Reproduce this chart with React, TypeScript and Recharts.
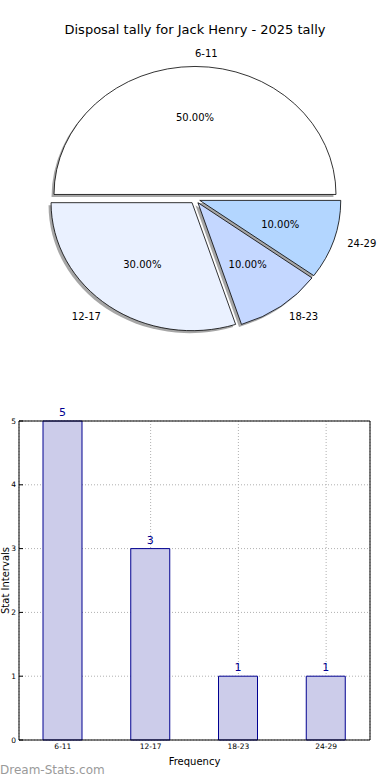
import { PieChart, Pie, BarChart, Bar, XAxis, YAxis, CartesianGrid, LabelList, ReferenceLine } from 'recharts';

const ranges = ['6-11', '12-17', '18-23', '24-29'];
const tally = [5, 3, 1, 1];
const sliceColors = ['#ffffff', '#eaf1ff', '#c4d7ff', '#b3d6ff'];
const yTicks = [0, 1, 2, 3, 4, 5];

const chartData = ranges.map((range, i) => ({ range, count: tally[i] }));

const RAD = Math.PI / 180;
// pie is drawn a bit flatter than round, like the original
const SQUASH = 128 / 141;
const EXPLODE = 5;

function wedgePath(cx: number, cy: number, rx: number, ry: number, start: number, end: number) {
  const x0 = cx + rx * Math.cos(start * RAD);
  const y0 = cy - ry * Math.sin(start * RAD);
  const x1 = cx + rx * Math.cos(end * RAD);
  const y1 = cy - ry * Math.sin(end * RAD);
  const large = end - start > 180 ? 1 : 0;
  return `M${cx},${cy} L${x0},${y0} A${rx},${ry} 0 ${large} 0 ${x1},${y1} Z`;
}

function sliceGeom(p: any) {
  const mid = (p.startAngle + p.endAngle) / 2;
  const rx = p.outerRadius;
  const ry = p.outerRadius * SQUASH;
  const cx = p.cx + EXPLODE * Math.cos(mid * RAD);
  const cy = p.cy - EXPLODE * SQUASH * Math.sin(mid * RAD);
  return { mid, rx, ry, cx, cy };
}

const renderShadow = (p: any) => {
  const g = sliceGeom(p);
  return (
    <path
      d={wedgePath(g.cx, g.cy, g.rx, g.ry, p.startAngle, p.endAngle)}
      transform="translate(-2.5,2.5)"
      fill="#4d4d4d"
      fillOpacity={0.5}
      stroke="none"
    />
  );
};

const renderSlice = (p: any) => {
  const g = sliceGeom(p);
  const cos = Math.cos(g.mid * RAD);
  const sin = Math.sin(g.mid * RAD);
  const name = p.payload?.range ?? p.name;
  return (
    <g>
      <path
        d={wedgePath(g.cx, g.cy, g.rx, g.ry, p.startAngle, p.endAngle)}
        fill={sliceColors[p.index]}
        stroke="#000"
        strokeWidth={0.8}
      />
      <text
        x={g.cx + 0.6 * g.rx * cos}
        y={g.cy - 0.6 * g.ry * sin}
        textAnchor="middle"
        dominantBaseline="central"
        fontSize={10}
        fill="#000"
      >
        {(p.percent * 100).toFixed(2)}%
      </text>
      <text
        x={g.cx + 1.1 * g.rx * cos}
        y={g.cy - 1.1 * g.ry * sin}
        textAnchor={cos > 0 ? 'start' : 'end'}
        dominantBaseline="central"
        fontSize={10}
        fill="#000"
      >
        {name}
      </text>
    </g>
  );
};

const YLabel = (props: any) => {
  const vb = props.viewBox;
  const x = vb.x + 5;
  const y = vb.y + vb.height / 2;
  return (
    <text x={x} y={y} transform={`rotate(-90 ${x} ${y})`} textAnchor="middle" dominantBaseline="central" fontSize={10} fill="#000">
      Stat Intervals
    </text>
  );
};

export default function App() {
  return (
    <div
      style={{
        position: 'absolute',
        left: 0,
        top: 0,
        width: 390,
        height: 780,
        background: '#fff',
        fontFamily: '"DejaVu Sans", sans-serif',
        overflow: 'hidden',
      }}
    >
      <div style={{ position: 'absolute', top: 22, left: 0, width: 390, textAlign: 'center', fontSize: 13, lineHeight: '16px' }}>
        Disposal tally for Jack Henry - 2025 tally
      </div>

      <div style={{ position: 'absolute', top: 0, left: 0 }}>
        <PieChart width={390} height={380} margin={{ top: 0, right: 0, bottom: 0, left: 0 }}>
          <Pie
            data={chartData}
            dataKey="count"
            nameKey="range"
            cx={195}
            cy={199}
            outerRadius={141}
            startAngle={0}
            endAngle={360}
            fill="transparent"
            stroke="none"
            labelLine={false}
            label={renderShadow}
            isAnimationActive={false}
          />
          <Pie
            data={chartData}
            dataKey="count"
            nameKey="range"
            cx={195}
            cy={199}
            outerRadius={141}
            startAngle={0}
            endAngle={360}
            fill="transparent"
            stroke="none"
            labelLine={false}
            label={renderSlice}
            isAnimationActive={false}
          />
        </PieChart>
      </div>

      <div style={{ position: 'absolute', top: 400, left: 0 }}>
        <BarChart width={390} height={380} data={chartData} margin={{ top: 21, right: 19, bottom: 10, left: 0 }}>
          <XAxis
            dataKey="range"
            axisLine={{ stroke: '#000' }}
            tickLine={false}
            tickSize={0}
            tickMargin={4}
            tick={{ fontSize: 7.5, fill: '#000' }}
            height={30}
            label={{ value: 'Frequency', position: 'insideBottom', offset: 5, fontSize: 10, fill: '#000' }}
          />
          <YAxis
            domain={[0, 5]}
            ticks={yTicks}
            width={19}
            axisLine={{ stroke: '#000' }}
            tickLine={{ stroke: '#000' }}
            tickSize={-4}
            tickMargin={7}
            tick={{ fontSize: 7.5, fill: '#000' }}
            label={<YLabel />}
          />
          <YAxis
            yAxisId="right"
            orientation="right"
            domain={[0, 5]}
            ticks={yTicks}
            width={1}
            axisLine={{ stroke: '#000' }}
            tickLine={{ stroke: '#000' }}
            tickSize={4}
            tick={false}
          />
          <Bar dataKey="count" fill="#ccccea" stroke="#000090" strokeWidth={1} barSize={39} isAnimationActive={false}>
            <LabelList dataKey="count" position="top" offset={5} fill="#000090" fontSize={11} />
          </Bar>
          <CartesianGrid stroke="#b0b0b0" strokeDasharray="1 2" zIndex={1} />
          <ReferenceLine y={5} stroke="#000" />
        </BarChart>
      </div>

      <div style={{ position: 'absolute', top: 762, left: 0, fontSize: 12, lineHeight: '16px', color: '#9a9a9a' }}>
        Dream-Stats.com
      </div>
    </div>
  );
}
